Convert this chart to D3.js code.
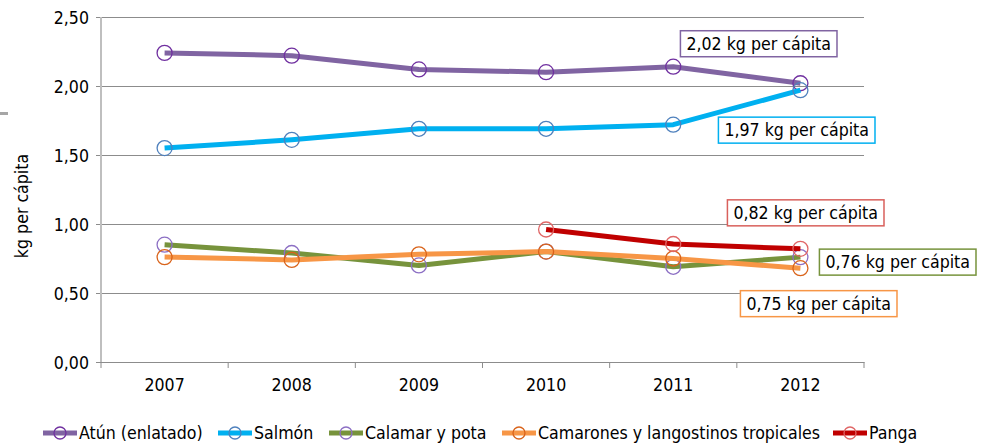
<!DOCTYPE html>
<html><head><meta charset="utf-8">
<script src="https://cdn.jsdelivr.net/npm/d3@7"></script>
<style>
body{margin:0;background:#fff;}
svg text{font-family:"DejaVu Sans Condensed","DejaVu Sans",sans-serif;font-stretch:condensed;fill:#000;}
</style></head>
<body><svg id="c" width="982" height="443"></svg>
<script>
const years = ["2007","2008","2009","2010","2011","2012"];
const yTicks = [0, 0.5, 1.0, 1.5, 2.0, 2.5];
const atun = [2.24, 2.22, 2.12, 2.10, 2.14, 2.02];
const salmon = [1.55, 1.61, 1.69, 1.69, 1.72, 1.97];
const calamar = [0.85, 0.79, 0.70, 0.80, 0.69, 0.76];
const camarones = [0.76, 0.74, 0.78, 0.80, 0.75, 0.68];
const panga = [null, null, null, 0.96, 0.855, 0.82];
const seriesNames = ["Atún (enlatado)", "Salmón", "Calamar y pota", "Camarones y langostinos tropicales", "Panga"];
const labelTexts = ["2,02 kg per cápita", "1,97 kg per cápita", "0,76 kg per cápita", "0,75 kg per cápita", "0,82 kg per cápita"];

const series = [
  {name: seriesNames[0], values: atun, line: "#8064A2", marker: "#7030A0", box: "#8064A2", label: labelTexts[0], lx: -114, ly: -39.5},
  {name: seriesNames[1], values: salmon, line: "#00B0F0", marker: "#4F81BD", box: "#00B0F0", label: labelTexts[1], lx: -76, ly: 40},
  {name: seriesNames[2], values: calamar, line: "#77933C", marker: "#8C6FC4", box: "#77933C", label: labelTexts[2], lx: 25, ly: 5},
  {name: seriesNames[3], values: camarones, line: "#F79646", marker: "#D9631A", box: "#F79646", label: labelTexts[3], lx: -54, ly: 35.5},
  {name: seriesNames[4], values: panga, line: "#C00000", marker: "#E06666", box: "#D9605C", label: labelTexts[4], lx: -67, ly: -36}
];

const FS = 17.6;
const svg = d3.select("#c");
const L = 101, R = 864, T = 17, B = 362;
const x = d3.scaleBand().domain(years).range([L, R]);
const y = d3.scaleLinear().domain([0, 2.5]).range([B, T]);
const fmt = v => d3.format(".2f")(v).replace(".", ",");

// left-edge artifacts
svg.append("rect").attr("x", 0).attr("y", 112).attr("width", 8).attr("height", 3).attr("fill", "#a6a6a6");

// gridlines + y ticks
const ga = svg.append("g").attr("transform", `translate(${L},0)`)
  .call(d3.axisLeft(y).tickValues(yTicks).tickFormat(fmt).tickSize(-(R - L)).tickSizeOuter(0).tickPadding(12));
ga.select(".domain").remove();
ga.selectAll(".tick line").attr("stroke", "#8c8c8c").attr("x1", -5);
ga.selectAll(".tick text").attr("font-size", FS).attr("dy", "0.36em");

// y axis line
svg.append("line").attr("x1", L).attr("x2", L).attr("y1", T).attr("y2", B).attr("stroke", "#bfbfbf").attr("stroke-width", 2);

// x axis
const gx = svg.append("g").attr("transform", `translate(0,${B})`)
  .call(d3.axisBottom(x).tickSize(0).tickPadding(17));
gx.select(".domain").attr("stroke", "#8c8c8c");
gx.selectAll(".tick text").attr("font-size", FS);
const bounds = years.map(d => x(d)).concat([x(years[years.length - 1]) + x.bandwidth()]);
svg.append("g").selectAll("line").data(bounds).join("line")
  .attr("x1", d => d).attr("x2", d => d).attr("y1", B).attr("y2", B + 6).attr("stroke", "#8c8c8c");

// y title
svg.append("text").attr("transform", "translate(28,206) rotate(-90)").attr("text-anchor", "middle")
  .attr("font-size", FS).text("kg per cápita");

const cx = d => x(d) + x.bandwidth() / 2;
series.forEach(s => {
  const pts = years.map((yr, i) => ({yr, v: s.values[i]})).filter(p => p.v != null);
  const line = d3.line().x(p => cx(p.yr)).y(p => y(p.v));
  svg.append("path").datum(pts).attr("d", line).attr("fill", "none").attr("stroke", s.line)
    .attr("stroke-width", 5).attr("stroke-linejoin", "round");
  svg.append("g").selectAll("circle").data(pts).join("circle")
    .attr("cx", p => cx(p.yr)).attr("cy", p => y(p.v)).attr("r", 7.5)
    .attr("fill", "none").attr("stroke", s.marker).attr("stroke-width", 1.3);
});

// value labels
series.forEach(s => {
  const last = years.length - 1;
  const px = cx(years[last]), py = y(s.values[last]);
  const g = svg.append("g").attr("transform", `translate(${px + s.lx},${py + s.ly})`);
  const t = g.append("text").attr("x", 0).attr("y", 0).attr("font-size", FS).attr("dy", "0.36em").text(s.label);
  const bb = t.node().getBBox();
  g.insert("rect", "text").attr("x", bb.x - 6).attr("y", -13).attr("width", bb.width + 12).attr("height", 26)
    .attr("fill", "#fff").attr("stroke", s.box).attr("stroke-width", 1.5);
});

// legend
const legX = [43, 218, 329, 502, 833];
const legY = 433;
series.forEach((s, i) => {
  const g = svg.append("g").attr("transform", `translate(${legX[i]},${legY})`);
  g.append("line").attr("x1", 0).attr("x2", 34).attr("stroke", s.line).attr("stroke-width", 5);
  g.append("circle").attr("cx", 17).attr("r", 6).attr("fill", "none").attr("stroke", s.marker).attr("stroke-width", 1.3);
  g.append("text").attr("x", 36).attr("dy", "0.36em").attr("font-size", FS).text(s.name);
});
</script></body></html>
